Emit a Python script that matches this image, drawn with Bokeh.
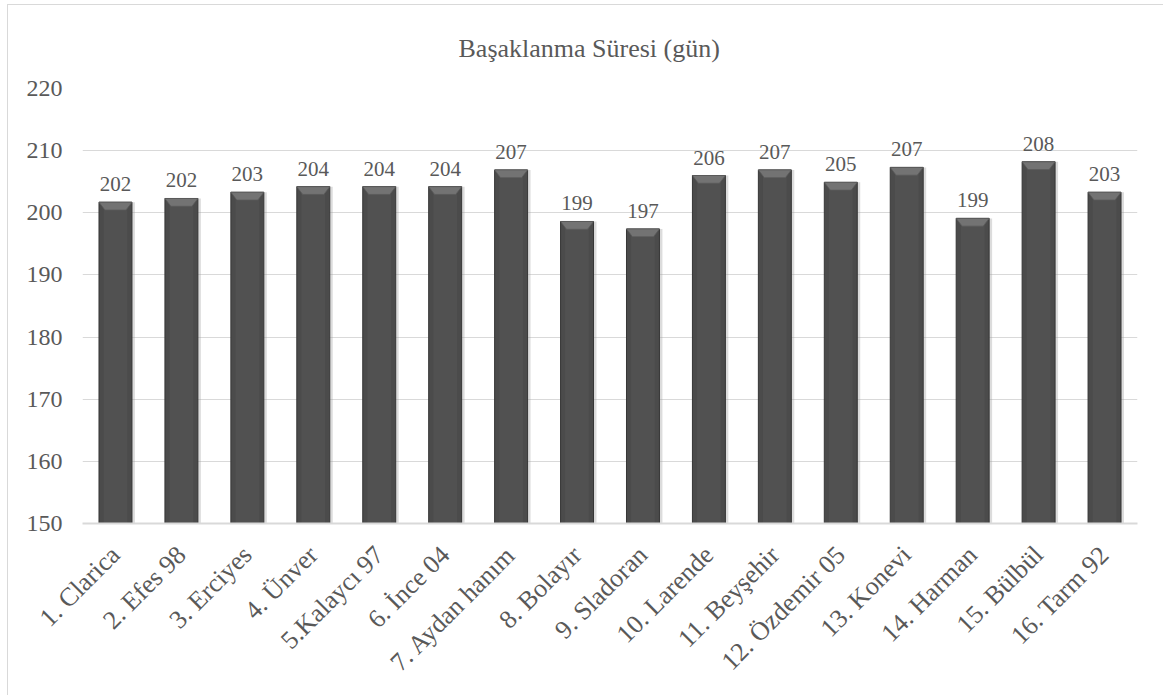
from bokeh.plotting import figure
from bokeh.models import ColumnDataSource, Range1d, FixedTicker, LabelSet
from bokeh.embed import file_html
from bokeh.resources import INLINE
import math

# ---- data ----
categories = ["1. Clarica", "2. Efes 98", "3. Erciyes", "4. Ünver", "5.Kalaycı 97",
              "6. İnce 04", "7. Aydan hanım", "8. Bolayır", "9. Sladoran", "10. Larende",
              "11. Beyşehir", "12. Özdemir 05", "13. Konevi", "14. Harman", "15. Bülbül",
              "16. Tarm 92"]
values = [201.7, 202.3, 203.3, 204.2, 204.2, 204.2, 206.9, 198.6, 197.4, 206.0,
          206.9, 204.9, 207.3, 199.1, 208.2, 203.3]
y_ticks = [150, 160, 170, 180, 190, 200, 210, 220]
title_text = "Başaklanma Süresi (gün)"

FONT = "Liberation Serif"
TXT = "#595959"

xs = list(range(1, len(categories) + 1))
labels = [str(int(round(v))) for v in values]
base = y_ticks[0]

src = ColumnDataSource(dict(x=xs, top=values, lab=labels,
                            xsh=[x + 0.035 for x in xs]))

# bevel trapezoids computed from the data
hw, iw, bev = 0.25, 0.16, 1.25
bev_xs = [[x - hw, x + hw, x + iw, x - iw] for x in xs]
bev_ys = [[v, v, v - bev, v - bev] for v in values]

p = figure(width=1156, height=691, output_backend="svg", toolbar_location=None,
           x_range=Range1d(0.5, len(categories) + 0.5),
           y_range=Range1d(y_ticks[0], y_ticks[-1]),
           min_border_left=74, min_border_right=27, min_border_top=83,
           min_border_bottom=173, margin=(4, 0, 0, 7))
p.styles = {"border-left": "1px solid #d9d9d9", "border-top": "1px solid #d9d9d9"}

p.title.text = title_text
p.title.align = "left"
p.title.offset = 376
p.title.text_font = FONT
p.title.text_font_size = "26px"
p.title.text_font_style = "normal"
p.title.text_color = TXT
p.title.standoff = 52

p.outline_line_color = None
p.background_fill_color = "white"
p.border_fill_color = "white"

# grid
p.xgrid.grid_line_color = None
p.ygrid.grid_line_color = "#d9d9d9"
p.ygrid.grid_line_width = 1.2
p.ygrid.ticker = FixedTicker(ticks=y_ticks)

# y axis
p.yaxis.ticker = FixedTicker(ticks=y_ticks)
p.yaxis.axis_line_color = None
p.yaxis.major_tick_line_color = None
p.yaxis.minor_tick_line_color = None
p.yaxis.major_tick_out = 0
p.yaxis.major_label_standoff = 20
p.yaxis.major_label_text_font = FONT
p.yaxis.major_label_text_font_size = "24px"
p.yaxis.major_label_text_color = TXT

# x axis
p.xaxis.ticker = FixedTicker(ticks=xs)
p.xaxis.major_label_overrides = {x: c for x, c in zip(xs, categories)}
p.xaxis.major_label_orientation = math.pi / 4
p.xaxis.axis_line_color = "#d9d9d9"
p.xaxis.axis_line_width = 2
p.xaxis.major_tick_line_color = None
p.xaxis.minor_tick_line_color = None
p.xaxis.major_tick_out = 0
p.xaxis.major_label_standoff = 27
p.xaxis.major_label_text_font = FONT
p.xaxis.major_label_text_font_size = "26px"
p.xaxis.major_label_text_color = TXT

# shadow
p.vbar(x="xsh", top="top", bottom=base, width=0.52, source=src,
       fill_color="#9a9a9a", fill_alpha=0.35, line_color=None)
# bars
p.vbar(x="x", top="top", bottom=base, width=0.5, source=src,
       fill_color="#4b4b4b", line_color="#363636", line_width=1)
# inner lighter body
p.vbar(x="x", top="top", bottom=base, width=0.36, source=src,
       fill_color="#515151", line_color=None)
# bevel top
p.patches(bev_xs, bev_ys, fill_color="#737373", line_color="#5a5a5a", line_width=0.8)

labs = LabelSet(x="x", y="top", text="lab", source=src, y_offset=11,
                text_align="center", text_baseline="bottom",
                text_font=FONT, text_font_size="21px", text_color=TXT)
p.add_layout(labs)

open("out.html", "w").write(file_html(p, INLINE))
